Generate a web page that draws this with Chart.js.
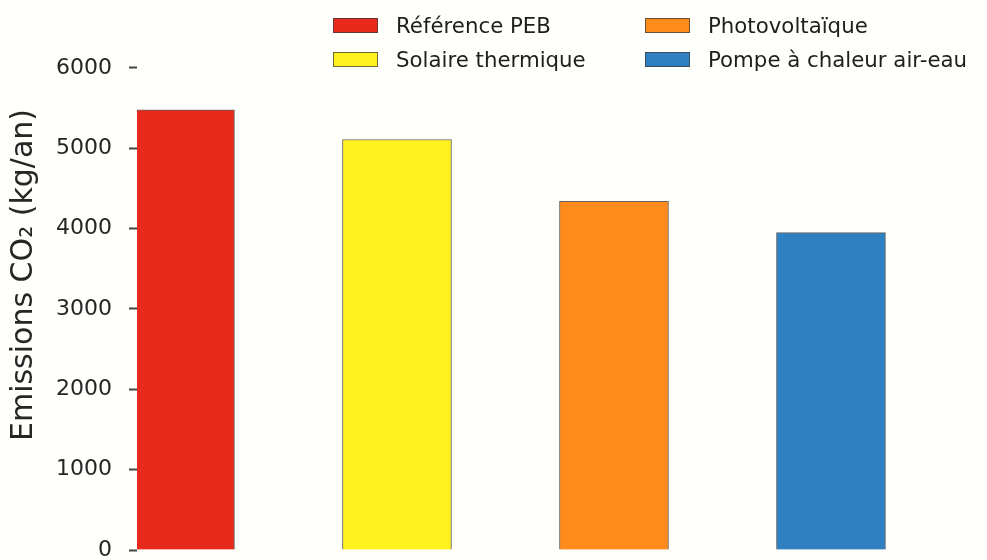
<!DOCTYPE html>
<html lang="fr">
<head>
<meta charset="utf-8">
<title>Emissions CO2</title>
<script src="https://cdn.jsdelivr.net/npm/chart.js@4.4.1/dist/chart.umd.min.js"></script>
<style>
  html, body {
    margin: 0;
    padding: 0;
    background: #fffffc;
    overflow: hidden;
  }
  #wrap {
    position: relative;
    width: 987px;
    height: 560px;
  }
  #legend {
    position: absolute;
    left: 333px;
    top: 9px;
    display: grid;
    grid-template-columns: 312px auto;
    grid-template-rows: repeat(2, 33.4px);
    grid-auto-flow: column;
    font-family: "DejaVu Sans", sans-serif;
    font-size: 21.3px;
    color: #1e1e1e;
  }
  .legend-item {
    display: flex;
    align-items: center;
    white-space: nowrap;
  }
  .legend-box {
    width: 43px;
    height: 13px;
    margin-right: 18px;
    border: 1px solid rgba(60, 60, 60, 0.75);
  }
</style>
</head>
<body>
<div id="wrap">
  <canvas id="emissionsChart"></canvas>
  <div id="legend"></div>
</div>
<script>
const categories = ["Référence PEB", "Solaire thermique", "Photovoltaïque", "Pompe à chaleur air-eau"];
const emissions = [5480, 5110, 4340, 3950];
const barColors = ["#e72a1b", "#fff21f", "#ff8b1d", "#2f80c1"];
const yTickValues = [0, 1000, 2000, 3000, 4000, 5000, 6000];
const yTitle = "Emissions CO₂ (kg/an)";

const TEXT_COLOR = "#262626";

// one dataset per bar so that every bar gets its own legend entry
const datasets = categories.map((label, i) => ({
  label,
  data: [{ x: i, y: emissions[i] }],
  backgroundColor: barColors[i],
  borderColor: "rgba(60, 60, 60, 0.8)",
  borderWidth: 1,
  barThickness: 109,
  grouped: false,
  clip: 0,
}));

const ctx = document.getElementById("emissionsChart").getContext("2d");

const emissionsChart = new Chart(ctx, {
  type: "bar",
  data: { datasets },
  options: {
    responsive: true,
    maintainAspectRatio: false,
    animation: false,
    layout: {
      padding: { top: 0, left: 0, right: 0, bottom: 10 },
    },
    plugins: {
      legend: { display: false },
      tooltip: { enabled: false },
    },
    scales: {
      x: {
        type: "linear",
        display: false,
        offset: false,
        min: -0.198,
        max: 3.719,
      },
      y: {
        min: 0,
        max: 6846,
        afterBuildTicks: (axis) => {
          axis.ticks = yTickValues.map((value) => ({ value }));
        },
        afterFit: (axis) => {
          axis.width = 137;
          axis.paddingTop = 0;
          axis.paddingBottom = 0;
        },
        border: { display: false },
        grid: {
          drawOnChartArea: false,
          drawTicks: true,
          tickLength: 8,
          tickWidth: 2,
          tickColor: "#444",
        },
        ticks: {
          padding: 17,
          color: TEXT_COLOR,
          font: { family: "DejaVu Sans", size: 22 },
          callback: (value) => String(value),
        },
        title: {
          display: true,
          text: yTitle,
          color: TEXT_COLOR,
          padding: { top: 6, bottom: 0 },
          font: { family: "DejaVu Sans", size: 30 },
        },
      },
    },
  },
});

const buildLegend = (chart) => {
  const legendElement = document.getElementById("legend");
  legendElement.innerHTML = "";
  chart.data.datasets.forEach((dataset) => {
    const item = document.createElement("div");
    item.className = "legend-item";
    const box = document.createElement("span");
    box.className = "legend-box";
    box.style.background = dataset.backgroundColor;
    const text = document.createElement("span");
    text.textContent = dataset.label;
    item.appendChild(box);
    item.appendChild(text);
    legendElement.appendChild(item);
  });
};

buildLegend(emissionsChart);
</script>
</body>
</html>
